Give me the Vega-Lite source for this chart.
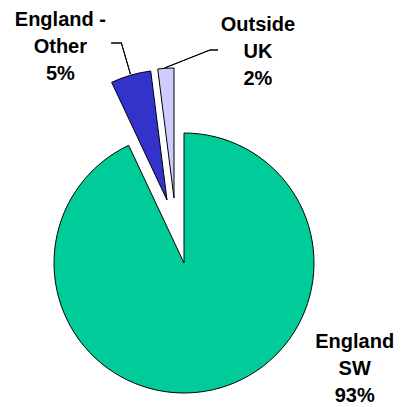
{
  "$schema": "https://vega.github.io/schema/vega-lite/v6.json",
  "width": 401,
  "height": 407,
  "autosize": {"type": "none"},
  "padding": 0,
  "background": "white",
  "config": {"view": {"stroke": null}},
  "data": {
    "values": [
      {"region": "England SW", "label": "England\nSW", "pct": 93, "order": 1},
      {"region": "England - Other", "label": "England -\nOther", "pct": 5, "order": 2},
      {"region": "Outside UK", "label": "Outside\nUK", "pct": 2, "order": 3}
    ]
  },
  "transform": [
    {"stack": "pct", "groupby": [], "sort": [{"field": "order"}], "as": ["start", "end"]},
    {"calculate": "(datum.start + datum.end) / 2", "as": "mid"},
    {"calculate": "datum.label + '\\n' + datum.pct + '%'", "as": "text"}
  ],
  "layer": [
    {
      "transform": [{"filter": "datum.order == 1"}],
      "mark": {"type": "arc", "outerRadius": 130, "stroke": "black", "strokeWidth": 1, "xOffset": -16.5, "yOffset": 59.5},
      "encoding": {
        "theta": {"field": "start", "type": "quantitative", "scale": {"domain": [0, 100]}, "stack": null},
        "theta2": {"field": "end"},
        "color": {"field": "region", "type": "nominal", "scale": {"domain": ["England SW", "England - Other", "Outside UK"], "range": ["#00CC99", "#3333CC", "#CCCCFF"]}, "legend": null}
      }
    },
    {
      "transform": [{"filter": "datum.order == 2"}],
      "mark": {"type": "arc", "outerRadius": 130, "stroke": "black", "strokeWidth": 1, "xOffset": -33.5, "yOffset": -3.5},
      "encoding": {
        "theta": {"field": "start", "type": "quantitative", "scale": {"domain": [0, 100]}, "stack": null},
        "theta2": {"field": "end"},
        "color": {"field": "region", "type": "nominal", "legend": null}
      }
    },
    {
      "transform": [{"filter": "datum.order == 3"}],
      "mark": {"type": "arc", "outerRadius": 130, "stroke": "black", "strokeWidth": 1, "xOffset": -26.5, "yOffset": -5.5},
      "encoding": {
        "theta": {"field": "start", "type": "quantitative", "scale": {"domain": [0, 100]}, "stack": null},
        "theta2": {"field": "end"},
        "color": {"field": "region", "type": "nominal", "legend": null}
      }
    },
    {
      "transform": [{"filter": "datum.order == 2"}],
      "mark": {"type": "arc", "outerRadius": 164, "innerRadius": 131, "fill": null, "stroke": "black", "strokeWidth": 1, "xOffset": -33.5, "yOffset": -3.5},
      "encoding": {
        "theta": {"field": "mid", "type": "quantitative", "scale": {"domain": [0, 100]}, "stack": null},
        "theta2": {"field": "mid"}
      }
    },
    {
      "transform": [{"filter": "datum.order == 2"}],
      "mark": {"type": "arc", "theta": 4.712, "theta2": 4.712, "outerRadius": 10, "innerRadius": 0, "fill": null, "stroke": "black", "strokeWidth": 1, "xOffset": -79.3, "yOffset": -160.5},
      "encoding": {}
    },
    {
      "transform": [{"filter": "datum.order == 3"}],
      "mark": {"type": "arc", "theta": 1.194, "theta2": 1.194, "outerRadius": 49, "innerRadius": 0, "fill": null, "stroke": "black", "strokeWidth": 1, "xOffset": -36, "yOffset": -135.5},
      "encoding": {}
    },
    {
      "transform": [{"filter": "datum.order == 3"}],
      "mark": {"type": "arc", "theta": 1.5708, "theta2": 1.5708, "outerRadius": 8, "innerRadius": 0, "fill": null, "stroke": "black", "strokeWidth": 1, "xOffset": 9.5, "yOffset": -153.5},
      "encoding": {}
    },
    {
      "transform": [{"filter": "datum.order == 1"}],
      "mark": {"type": "text", "radius": 150, "xOffset": -16.5, "yOffset": 59.5, "dx": 138, "dy": -67, "font": "Liberation Sans", "fontWeight": "bold", "fontSize": 20, "lineHeight": 27, "lineBreak": "\n", "align": "center", "baseline": "middle", "color": "black"},
      "encoding": {
        "theta": {"field": "mid", "type": "quantitative", "scale": {"domain": [0, 100]}, "stack": null},
        "text": {"field": "text"}
      }
    },
    {
      "transform": [{"filter": "datum.order == 2"}],
      "mark": {"type": "text", "radius": 160, "xOffset": -33.5, "yOffset": -3.5, "dx": -62, "dy": -26, "font": "Liberation Sans", "fontWeight": "bold", "fontSize": 20, "lineHeight": 27, "lineBreak": "\n", "align": "center", "baseline": "middle", "color": "black"},
      "encoding": {
        "theta": {"field": "mid", "type": "quantitative", "scale": {"domain": [0, 100]}, "stack": null},
        "text": {"field": "text"}
      }
    },
    {
      "transform": [{"filter": "datum.order == 3"}],
      "mark": {"type": "text", "radius": 160, "xOffset": -26.5, "yOffset": -5.5, "dx": 94, "dy": -13, "font": "Liberation Sans", "fontWeight": "bold", "fontSize": 20, "lineHeight": 27, "lineBreak": "\n", "align": "center", "baseline": "middle", "color": "black"},
      "encoding": {
        "theta": {"field": "mid", "type": "quantitative", "scale": {"domain": [0, 100]}, "stack": null},
        "text": {"field": "text"}
      }
    }
  ]
}
